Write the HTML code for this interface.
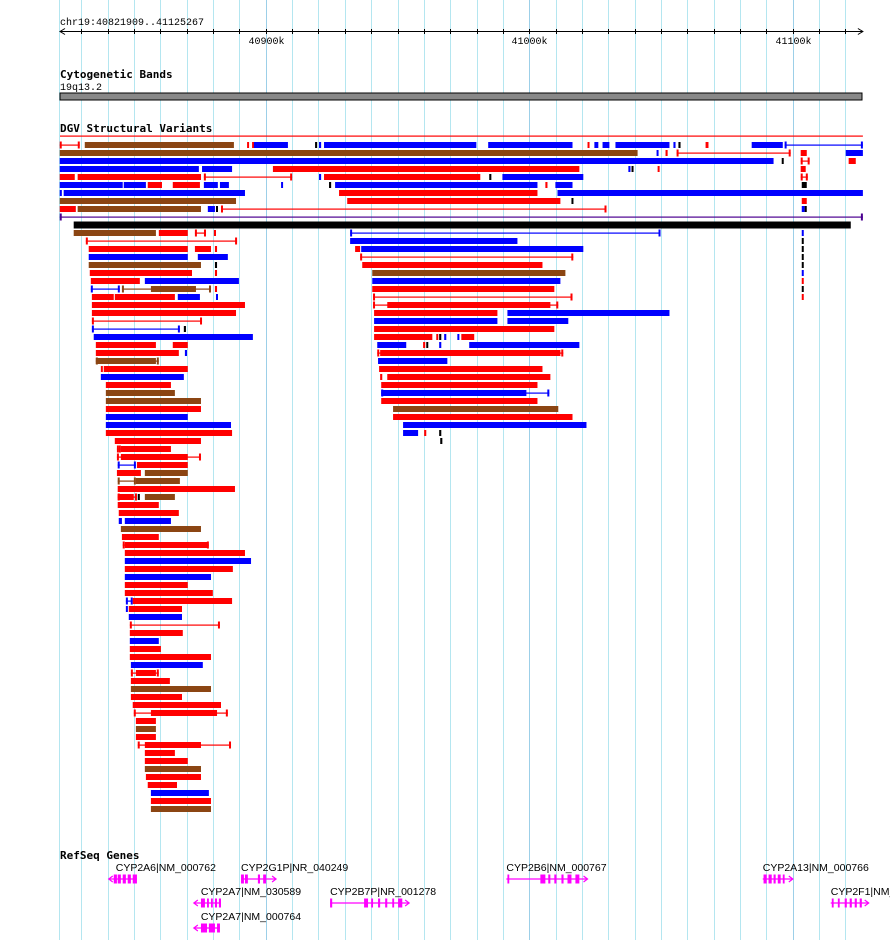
<!DOCTYPE html>
<html><head><meta charset="utf-8"><title>DGV browser view</title>
<style>
html,body{margin:0;padding:0;background:#fff;width:890px;height:940px;overflow:hidden}
svg{display:block}
.t{font-family:"Liberation Mono","DejaVu Sans Mono",monospace;font-size:10px;fill:#000}
.h{font-family:"DejaVu Sans Mono","Liberation Mono",monospace;font-size:11px;font-weight:bold;fill:#000}
.g{font-family:"Liberation Sans","DejaVu Sans",sans-serif;font-size:10.5px;fill:#000}
</style></head>
<body>
<svg id="chart" width="890" height="940" viewBox="0 0 890 940" xmlns="http://www.w3.org/2000/svg">
  <g id="grid"></g>
  <g id="ruler">
    <text class="t" x="60" y="25">chr19:40821909..41125267</text>
  </g>
  <text class="h" x="60" y="78">Cytogenetic Bands</text>
  <text class="t" x="60" y="90">19q13.2</text>
  <rect x="60" y="93" width="802" height="7" fill="#888" stroke="#000" stroke-width="1"/>
  <text class="h" x="60" y="132">DGV Structural Variants</text>
  <g id="dgv"></g>
  <text class="h" x="60" y="859">RefSeq Genes</text>
  <g id="genes"></g>
</svg>
<script>
// positions are in kb beyond chr19:40,800,000
const viewStart = 21.9;
const viewEnd = 326.6;
const tickPositions = [30,40,50,60,70,80,90,100,110,120,130,140,150,160,170,180,190,200,210,220,230,240,250,260,270,280,290,300,310,320];
const tickLabels = {100:"40900k",200:"41000k",300:"41100k"};

// top DGV rows: [row, start, end, color, kind]
const topFeatures = [
[0,21.8,29.4,'r','l'],[0,31.3,87.9,'n','b'],[0,92.9,93.6,'r','b'],[0,94.8,95.5,'r','b'],[0,95.5,108.4,'b','b'],[0,118.7,119.5,'k','b'],[0,120.2,121,'b','b'],[0,122.1,179.9,'b','b'],[0,184.4,216.4,'b','b'],[0,222.1,222.8,'r','b'],[0,224.7,226.2,'b','b'],[0,227.8,230.4,'b','b'],[0,232.7,253.2,'b','b'],[0,254.7,255.5,'b','b'],[0,256.6,257.4,'k','b'],[0,266.9,268,'r','b'],[0,284.4,296.2,'b','b'],[0,296.9,326.6,'b','l'],
[1,21.8,241.1,'n','b'],[1,248.3,249,'b','b'],[1,251.7,252.5,'r','b'],[1,255.9,299.2,'r','l'],[1,303,305.3,'r','b'],[1,320.1,326.6,'b','b'],
[2,21.8,292.7,'b','b'],[2,295.8,296.5,'k','b'],[2,303,306.4,'r','l'],[2,321.2,323.9,'r','b'],
[3,21.8,74.6,'b','b'],[3,75.8,87.2,'b','b'],[3,102.7,219,'r','b'],[3,237.6,238.4,'b','b'],[3,238.8,239.5,'k','b'],[3,248.7,249.4,'r','b'],[3,303,304.9,'r','b'],
[4,21.8,27.5,'r','b'],[4,28.6,75.4,'r','b'],[4,76.5,110,'r','l'],[4,120.2,121,'b','b'],[4,122.1,181.4,'r','b'],[4,184.8,185.6,'k','b'],[4,189.8,220.5,'b','b'],[4,303,305.7,'r','l'],
[5,21.8,45.7,'b','b'],[5,46.1,54.5,'b','b'],[5,55.2,60.6,'r','b'],[5,64.7,75,'r','b'],[5,76.5,81.8,'b','b'],[5,82.6,86,'b','b'],[5,105.8,106.5,'b','b'],[5,124,124.8,'k','b'],[5,126.3,203.1,'b','b'],[5,206.1,206.9,'r','b'],[5,209.9,216.4,'b','b'],[5,303.4,305.3,'k','b'],
[6,21.8,22.6,'b','b'],[6,23.3,92.1,'b','b'],[6,127.8,203.1,'r','b'],[6,210.7,326.6,'b','b'],
[7,21.8,88.7,'n','b'],[7,130.9,211.8,'r','b'],[7,216,216.7,'k','b'],[7,303.4,305.3,'r','b'],
[8,21.8,27.9,'r','b'],[8,28.6,75.4,'n','b'],[8,78,80.7,'b','b'],[8,81.1,81.8,'k','b'],[8,83,229.3,'r','l'],[8,303.4,304.5,'b','b'],[8,304.5,305.3,'k','b'],
[9,21.8,326.6,'p','l']
];
// overall merged span bar
const spanBar = [27.1,322];

// stacked DGV rows: [row, start, end, color, kind]
const stackFeatures = [
[0,27.1,58.3,'n','b'],[0,59.4,70.4,'r','b'],[0,73.1,77.3,'r','l'],[0,80.3,81.1,'r','b'],[0,132,249.8,'b','l'],[0,303.4,304.1,'b','b'],
[1,31.7,89.1,'r','l'],[1,132,195.5,'b','b'],[1,303.4,304.1,'k','b'],
[2,32.8,70.4,'r','b'],[2,73.1,79.2,'r','b'],[2,80.7,81.5,'r','b'],[2,133.9,135.8,'r','b'],[2,136.2,220.5,'b','b'],[2,303.4,304.1,'k','b'],
[3,32.8,70.4,'b','b'],[3,74.2,85.6,'b','b'],[3,135.8,216.7,'r','l'],[3,303.4,304.1,'k','b'],
[4,32.8,75.4,'n','b'],[4,80.7,81.5,'k','b'],[4,136.6,205,'r','b'],[4,303.4,304.1,'k','b'],
[5,33.2,72,'r','b'],[5,80.7,81.5,'r','b'],[5,140.4,213.7,'n','b'],[5,303.4,304.1,'b','b'],
[6,33.6,52.2,'r','b'],[6,54.1,89.8,'b','b'],[6,140.4,211.8,'b','b'],[6,303.4,304.1,'r','b'],
[7,33.6,44.6,'b','l'],[7,45.4,79.2,'n','l'],[7,56.4,73.5,'n','b'],[7,80.7,81.5,'r','b'],[7,140.4,209.5,'r','b'],[7,303.4,304.1,'k','b'],
[8,34,42.3,'r','b'],[8,42.7,65.5,'r','b'],[8,66.6,75,'b','b'],[8,81.1,81.8,'b','b'],[8,140.7,216.4,'r','l'],[8,303.4,304.1,'r','b'],
[9,34,92.1,'r','b'],[9,140.7,211,'r','l'],[9,146.1,208,'r','b'],
[10,34,88.7,'r','b'],[10,141.1,187.9,'r','b'],[10,191.7,253.2,'b','b'],
[11,34,75.8,'r','l'],[11,141.1,187.9,'b','b'],[11,191.7,214.8,'b','b'],
[12,34,67.4,'b','l'],[12,68.9,69.7,'k','b'],[12,141.1,209.5,'r','b'],
[13,34.7,95.1,'b','b'],[13,141.1,163.2,'r','b'],[13,164.7,165.1,'r','b'],[13,165.8,166.6,'k','b'],[13,167.7,168.5,'b','b'],[13,172.7,173.4,'b','b'],[13,174.2,179.1,'r','b'],
[14,35.5,58.3,'r','b'],[14,64.7,70.4,'r','b'],[14,142.3,153.3,'b','b'],[14,159.7,160.5,'r','b'],[14,160.9,161.6,'k','b'],[14,165.8,166.6,'b','b'],[14,177.2,219,'b','b'],
[15,35.5,67,'r','b'],[15,69.3,70.1,'b','b'],[15,142.3,212.9,'r','l'],[15,143.4,211.8,'r','b'],
[16,35.5,59.4,'n','l'],[16,35.5,58.3,'n','b'],[16,142.6,168.9,'b','b'],
[17,37.4,38.1,'r','b'],[17,38.5,70.4,'r','b'],[17,143,205,'r','b'],
[18,37.4,68.9,'b','b'],[18,143.4,144.2,'r','b'],[18,146.1,208,'r','b'],
[19,39.3,64,'r','b'],[19,143.8,203.1,'r','b'],
[20,39.3,65.5,'n','b'],[20,143.8,207.6,'b','l'],[20,143.8,198.9,'b','b'],
[21,39.3,75.4,'n','b'],[21,143.8,203.1,'r','b'],
[22,39.3,75.4,'r','b'],[22,148.3,211,'n','b'],
[23,39.3,70.4,'b','b'],[23,148.3,216.4,'r','b'],
[24,39.3,86.8,'b','b'],[24,152.1,221.7,'b','b'],
[25,39.3,87.2,'r','b'],[25,152.1,157.8,'b','b'],[25,160.1,160.9,'r','b'],[25,165.8,166.6,'k','b'],
[26,42.7,75.4,'r','b'],[26,166.2,167,'k','b'],
[27,43.5,45,'r','l'],[27,45,64,'r','b'],
[28,43.5,75.4,'r','l'],[28,45,70.4,'r','b'],
[29,43.8,50.7,'b','l'],[29,51.1,70.4,'r','b'],
[30,43.5,52.6,'r','b'],[30,54.1,70.4,'n','b'],
[31,43.8,50.7,'n','l'],[31,50.7,67.4,'n','b'],
[32,43.8,88.3,'r','b'],
[33,43.8,51.1,'r','l'],[33,43.8,49.9,'r','b'],[33,51.4,52.2,'k','b'],[33,54.1,65.5,'n','b'],
[34,43.8,59.4,'r','b'],
[35,44.2,67,'r','b'],
[36,44.2,45.4,'b','b'],[36,46.5,64,'b','b'],
[37,45,75.4,'n','b'],
[38,45.4,59.4,'r','b'],
[39,45.7,78.4,'r','l'],[39,46.5,77.7,'r','b'],
[40,46.5,92.1,'r','b'],
[41,46.5,94.4,'b','b'],
[42,46.5,87.5,'r','b'],
[43,46.5,79.2,'b','b'],
[44,46.5,70.4,'r','b'],
[45,46.5,79.9,'r','b'],
[46,46.9,49.5,'b','l'],[46,49.5,87.2,'r','b'],
[47,46.9,47.6,'b','b'],[47,48,68.2,'r','b'],
[48,48,68.2,'b','b'],
[49,48.4,82.6,'r','l'],
[50,48.4,68.5,'r','b'],
[51,48.4,59.4,'b','b'],
[52,48.4,60.2,'r','b'],
[53,48.4,79.2,'r','b'],
[54,48.8,76.1,'b','b'],
[55,48.8,59.4,'r','l'],[55,50.7,58.3,'r','b'],
[56,48.8,63.6,'r','b'],
[57,48.8,79.2,'n','b'],
[58,48.8,68.2,'r','b'],
[59,49.5,83,'r','b'],
[60,49.9,85.6,'r','l'],[60,56.4,81.5,'r','b'],
[61,50.7,58.3,'r','b'],
[62,50.7,58.3,'n','b'],
[63,50.7,58.3,'r','b'],
[64,51.4,86.8,'r','l'],[64,54.1,75.4,'r','b'],
[65,54.1,65.5,'r','b'],
[66,54.1,70.4,'r','b'],
[67,54.1,75.4,'n','b'],
[68,54.5,75.4,'r','b'],
[69,55.2,66.3,'r','b'],
[70,56.4,78.4,'b','b'],
[71,56.4,79.2,'r','b'],
[72,56.4,79.2,'n','b']
];

// genes
const geneNames = ["CYP2A6|NM_000762","CYP2G1P|NR_040249","CYP2B6|NM_000767","CYP2A13|NM_000766","CYP2A7|NM_030589","CYP2B7P|NR_001278","CYP2F1|NM_000774","CYP2A7|NM_000764"];
const geneRows = [0,0,0,0,1,1,1,2];
const geneStrands = ['-','+','+','+','-','+','+','-'];
const geneSpans = [[40.4,51.1],[90.6,103.9],[191.3,222.1],[288.6,300],[72.7,83],[124.4,154.4],[314.4,328.8],[72.7,82.6]];
const geneExons = [
 [[42.3,43.5],[43.8,45],[45.7,46.9],[47.6,48.8],[49.5,51.1]],
 [[90.6,91.7],[92.1,93.2],[97,97.8],[99,100.1]],
 [[191.7,192.4],[204.2,206.1],[207.2,208],[209.5,210.3],[212.2,213],[214.5,216],[217.5,219]],
 [[288.9,290.1],[290.8,292],[292.7,293.5],[294.3,295.4],[296.2,296.9]],
 [[75.4,76.9],[77.7,78.4],[79.2,79.9],[80.7,81.5],[82.2,83]],
 [[124.4,125.2],[137.3,138.8],[140,140.7],[142.6,143.4],[145.3,146.1],[148,148.7],[150.2,151.8]],
 [[314.8,315.5],[317.1,317.8],[319.7,320.5],[321.6,322.4],[323.5,324.3],[325.4,326.2]],
 [[75.4,77.7],[78.4,80.7],[81.5,82.6]]
];

const NS = "http://www.w3.org/2000/svg";
const PX_LEFT = 60, PX_PER_KB = 2.635;
function xScale(kb){ return PX_LEFT + (kb - viewStart) * PX_PER_KB; }
function topRowY(r){ return 142 + r * 8; }
function stackRowY(r){ return 230 + r * 8; }
const COLORS = {r:'#ff0000', b:'#0000ff', n:'#8b4513', k:'#000000', p:'#4b0090'};
function mk(tag, attrs, parent){ const e=document.createElementNS(NS,tag); for(const k in attrs) e.setAttribute(k,attrs[k]); parent.appendChild(e); return e; }

// grid
const grid = document.getElementById('grid');
{
  const l = mk('line',{x1:59.5,x2:59.5,y1:0,y2:940,stroke:'#b4e6f0','stroke-width':1},grid);
  
  
}
tickPositions.forEach(p=>{
  const x = Math.round(xScale(p))+0.5;
  const major = tickLabels[p] !== undefined;
  const l = mk('line',{x1:x,x2:x,y1:0,y2:940,stroke: major?'#9ccfe8':'#b4e6f0','stroke-width':1},grid);
  
  
});

// ruler
const ruler = document.getElementById('ruler');
{
  const y = 31.5;
  const a = mk('line',{x1:xScale(viewStart),x2:xScale(viewEnd),y1:y,y2:y,stroke:'#000','stroke-width':1},ruler);
  
  
  const la = mk('path',{d:`M${xScale(viewStart)+5},${y-3} L${xScale(viewStart)},${y} L${xScale(viewStart)+5},${y+3}`,fill:'none',stroke:'#000'},ruler);
  
  
  const ra = mk('path',{d:`M${xScale(viewEnd)-5},${y-3} L${xScale(viewEnd)},${y} L${xScale(viewEnd)-5},${y+3}`,fill:'none',stroke:'#000'},ruler);
  
  
  tickPositions.forEach(p=>{
    const x = Math.round(xScale(p))+0.5;
    const t = mk('line',{x1:x,x2:x,y1:29,y2:34,stroke:'#000'},ruler);
    
    
    if(tickLabels[p]){
      const tx = mk('text',{x:x,y:44,'text-anchor':'middle',class:'t'},ruler);
      tx.textContent = tickLabels[p];
      
      
    }
  });
}

// DGV
const dgv = document.getElementById('dgv');
function drawFeature(f, y){
  const [row,s,e,c,kind] = f;
  const x1 = xScale(s), x2 = xScale(e), col = COLORS[c];
  const g = mk('g',{},dgv);
  
  
  if(kind==='b'){
    mk('rect',{x:x1,y:y,width:Math.max(2,x2-x1),height:6,fill:col},g);
  } else {
    mk('rect',{x:x1,y:y+2.5,width:Math.max(1,x2-x1),height:1.2,fill:col},g);
    mk('rect',{x:x1,y:y-0.5,width:2,height:7,fill:col},g);
    mk('rect',{x:x2-2,y:y-0.5,width:2,height:7,fill:col},g);
  }
}
{
  const rl = mk('rect',{x:xScale(viewStart),y:135.5,width:xScale(viewEnd)-xScale(viewStart),height:1.2,fill:'#ff0000'},dgv);
  
  
}
topFeatures.forEach(f=>drawFeature(f, topRowY(f[0])));
{
  const sb = mk('rect',{x:xScale(spanBar[0]),y:221.5,width:xScale(spanBar[1])-xScale(spanBar[0]),height:7,fill:'#000'},dgv);
  
  
}
stackFeatures.forEach(f=>drawFeature(f, stackRowY(f[0])));

// genes
const genes = document.getElementById('genes');
const GENE_ROW_Y = [879, 903, 928];
geneNames.forEach((name,i)=>{
  const g = mk('g',{},genes);
  
  
  const cy = GENE_ROW_Y[geneRows[i]];
  const [s,e] = geneSpans[i];
  const x1 = xScale(s), x2 = xScale(e);
  const col = '#ff00ff';
  const lab = mk('text',{x:x1 + (geneStrands[i]==='-'?7:0),y:cy-8,class:'g'},g);
  lab.textContent = name;
  mk('line',{x1:x1,x2:x2,y1:cy,y2:cy,stroke:col,'stroke-width':1.2},g);
  geneExons[i].forEach(ex=>{
    const a = xScale(ex[0]), b = xScale(ex[1]);
    mk('rect',{x:a,y:cy-4.5,width:Math.max(1.5,b-a),height:9,fill:col},g);
  });
  if(geneStrands[i]==='-'){
    mk('path',{d:`M${x1+4},${cy-3} L${x1},${cy} L${x1+4},${cy+3}`,fill:'none',stroke:col,'stroke-width':1.2},g);
  } else {
    mk('path',{d:`M${x2-4},${cy-3} L${x2},${cy} L${x2-4},${cy+3}`,fill:'none',stroke:col,'stroke-width':1.2},g);
  }
});
</script>
</body></html>
